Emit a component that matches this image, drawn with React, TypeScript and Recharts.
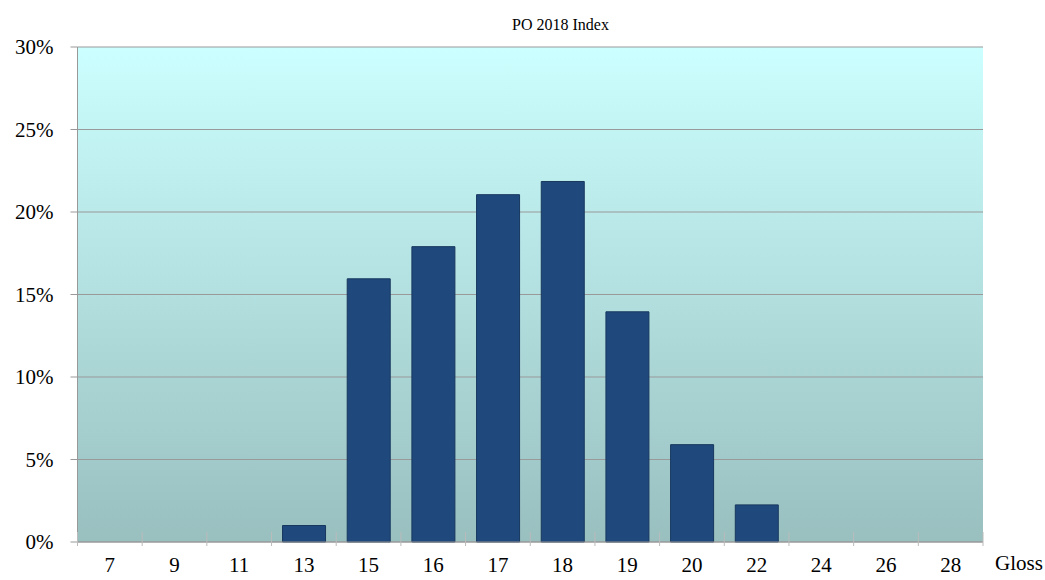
import { BarChart, Bar, XAxis, YAxis, CartesianGrid } from "recharts";

const glossLevels = ["7", "9", "11", "13", "15", "16", "17", "18", "19", "20", "22", "24", "26", "28"];
const sharePct = [0, 0, 0, 1.0, 15.95, 17.9, 21.05, 21.85, 13.95, 5.9, 2.25, 0, 0, 0];
const yTicks = [0, 5, 10, 15, 20, 25, 30];

const data = glossLevels.map((g, i) => ({ gloss: g, share: sharePct[i] }));

const FONT = '"Liberation Serif", "Times New Roman", serif';
const W = 1045;
const H = 580;
const M = { top: 47, right: 62, bottom: 0, left: 0 };
const Y_W = 77.5;
const X_H = 38;
const band = (W - Y_W - M.right - M.left) / glossLevels.length;

const GlossTick = ({ x, y, payload, index }: any) => {
  const left = x - band / 2;
  const axisY = y - 10;
  return (
    <g>
      <line x1={left} x2={left} y1={axisY - 8} y2={axisY + 6} stroke="#bbb" />
      {index === glossLevels.length - 1 && (
        <line x1={left + band} x2={left + band} y1={axisY - 8} y2={axisY + 6} stroke="#bbb" />
      )}
      <text x={x} y={axisY + 32} textAnchor="middle" fontSize={21} fontFamily={FONT} fill="#000">
        {payload.value}
      </text>
    </g>
  );
};

export default function App() {
  return (
    <div style={{ position: "absolute", left: 0, top: 0, width: W, height: H, background: "#fff", fontFamily: FONT }}>
      <div style={{ position: "absolute", top: 16, left: 0, width: W + 76, textAlign: "center", fontSize: 16 }}>
        PO 2018 Index
      </div>
      <div style={{ position: "absolute", top: 551, left: 995, fontSize: 21 }}>Gloss</div>
      <BarChart width={W} height={H} data={data} margin={M} barSize={43}>
        <defs>
          <linearGradient id="plotBg" x1="0" y1="0" x2="0" y2="1">
            <stop offset="0%" stopColor="#ccffff" />
            <stop offset="100%" stopColor="#99bfbf" />
          </linearGradient>
        </defs>
        <CartesianGrid vertical={false} stroke="#999" fill="url(#plotBg)" fillOpacity={1} />
        <XAxis
          dataKey="gloss"
          height={X_H}
          tickLine={false}
          axisLine={{ stroke: "#999" }}
          tick={<GlossTick />}
          interval={0}
        />
        <YAxis
          width={Y_W}
          domain={[0, 30]}
          ticks={yTicks}
          tickFormatter={(v) => `${v}%`}
          tickSize={7}
          tickMargin={17}
          tickLine={{ stroke: "#999" }}
          axisLine={{ stroke: "#999" }}
          tick={{ fontSize: 21, fontFamily: FONT, fill: "#000" }}
        />
        <YAxis
          yAxisId="edge"
          orientation="right"
          width={0}
          domain={[0, 30]}
          tick={false}
          tickLine={false}
          axisLine={{ stroke: "#999" }}
        />
        <Bar dataKey="share" fill="#1f497d" stroke="#17375e" strokeWidth={1} isAnimationActive={false} />
      </BarChart>
    </div>
  );
}
